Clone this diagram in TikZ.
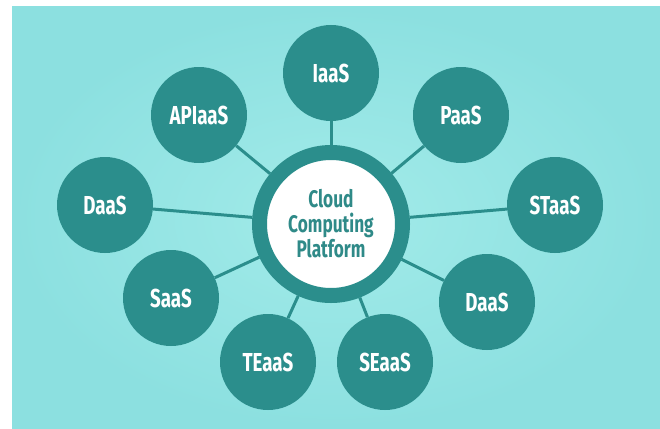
\documentclass[tikz,border=0pt]{standalone}
\usepackage{fontspec}
\newfontfamily\labelfont{Fira Sans}[FakeStretch=0.72]
\definecolor{bgcyan}{HTML}{8CE0E0}
\definecolor{bglight}{HTML}{A2EBE9}
\definecolor{tealdisc}{HTML}{2B8E8C}
\definecolor{tealtext}{HTML}{2F8A88}
\begin{document}
\begin{tikzpicture}[x=1pt,y=-1pt,
  service/.style={circle,fill=tealdisc,minimum size=96pt,inner sep=0pt,
    text=white,font=\labelfont\bfseries\fontsize{26}{28}\selectfont},
  hub/.style={circle,draw=tealdisc,line width=15pt,fill=white,minimum size=143pt,
    inner sep=0pt,align=center,text=tealtext,
    font=\labelfont\bfseries\fontsize{24}{25}\selectfont},
  link/.style={draw=tealdisc,line width=3pt}]
  % canvas and background panel
  \useasboundingbox (0,0) rectangle (660,428);
  \fill[white] (0,0) rectangle (660,428);
  \shade[inner color=bglight,outer color=bgcyan] (12,7) rectangle (660,428);
  % central hub
  \node[hub] (hub) at (331,224) {Cloud\\Computing\\Platform};
  % services around the hub
  \node[service] (iaas)  at (331,73)  {IaaS};
  \node[service] (apiaas) at (199,115) {APIaaS};
  \node[service] (paas)  at (461,115) {PaaS};
  \node[service] (daasl) at (105,205) {DaaS};
  \node[service] (staas) at (555,205) {STaaS};
  \node[service] (saas)  at (171,298) {SaaS};
  \node[service] (daasr) at (487,302) {DaaS};
  \node[service] (teaas) at (268,362) {TEaaS};
  \node[service] (seaas) at (385,362) {SEaaS};
  % spokes
  \foreach \s in {iaas,apiaas,paas,daasl,staas,saas,daasr,teaas,seaas}
    \draw[link] (hub) -- (\s);
\end{tikzpicture}
\end{document}
